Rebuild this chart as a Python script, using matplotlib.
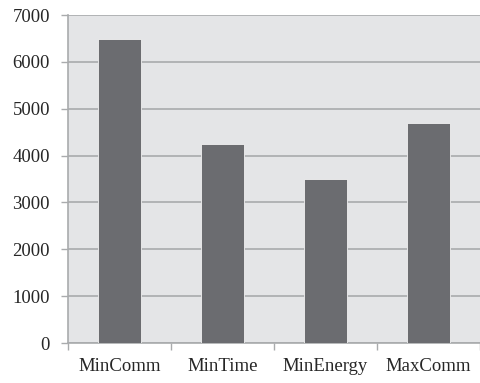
import matplotlib.pyplot as plt
import numpy as np

strategies = ["MinComm", "MinTime", "MinEnergy", "MaxComm"]
values = [6480, 4240, 3500, 4690]
yticks = [0, 1000, 2000, 3000, 4000, 5000, 6000, 7000]

plt.rcParams['font.family'] = ['Liberation Serif', 'DejaVu Serif']

fig = plt.figure(figsize=(4.8, 3.83), dpi=100)
ax = fig.add_axes([0.1417, 0.1044, 0.8583, 0.8564])
ax.set_facecolor("#e4e5e7")

x = np.arange(len(strategies))
ax.bar(x, values, width=0.41, color="#6b6c70", edgecolor="#f2f2f2",
       linewidth=0.6, zorder=3)

ax.set_xlim(-0.5, len(strategies) - 0.5)
ax.set_ylim(0, 7000)
ax.set_yticks(yticks)
ax.set_yticklabels([str(v) for v in yticks])
ax.yaxis.grid(True, color="#a9abad", linewidth=1.2, zorder=1)
ax.set_axisbelow(True)

# category boundaries get the ticks, labels sit in between
ax.set_xticks(np.arange(len(strategies) + 1) - 0.5)
ax.set_xticklabels([])
ax.set_xticks(x, minor=True)
ax.set_xticklabels(strategies, minor=True)
ax.tick_params(axis="x", which="minor", length=0, pad=11)
ax.tick_params(axis="x", which="major", length=5, color="#a9abad", width=1)
ax.tick_params(axis="y", length=5, color="#a9abad", width=1, pad=8)
ax.tick_params(which="both", labelsize=13.5, labelcolor="#262626")

for s in ["top", "right"]:
    ax.spines[s].set_visible(False)
for s in ["left", "bottom"]:
    ax.spines[s].set_color("#a9abad")
    ax.spines[s].set_linewidth(1.2)

fig.savefig("out.png", dpi=100)
